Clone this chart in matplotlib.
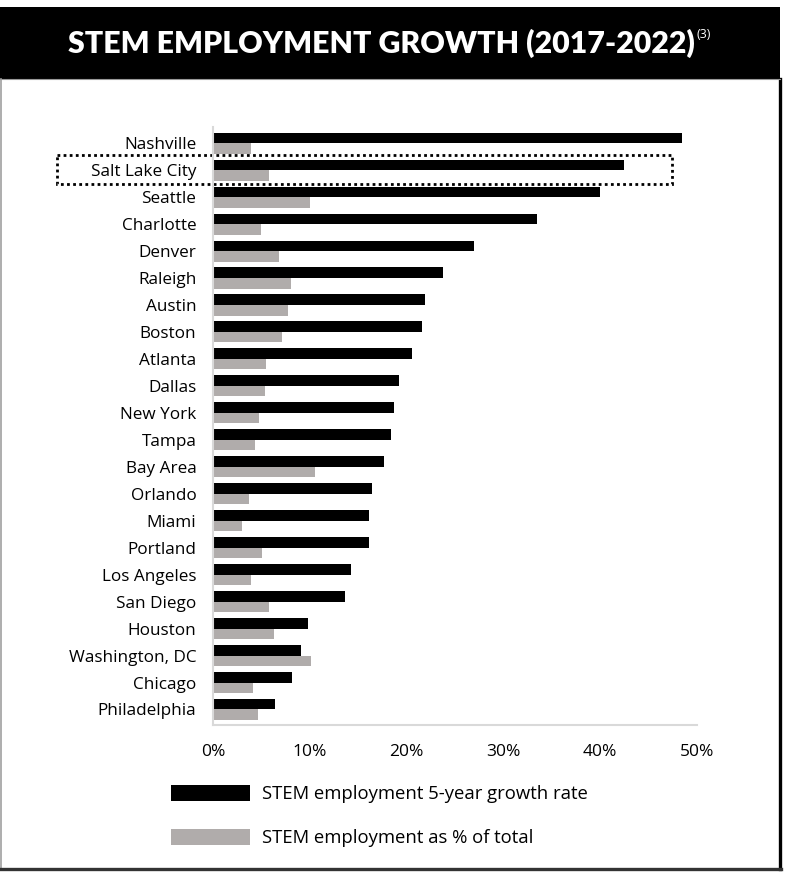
import numpy as np
import matplotlib.pyplot as plt
from matplotlib.patches import Rectangle

# metro areas, top to bottom
cities = ["Nashville", "Salt Lake City", "Seattle", "Charlotte", "Denver", "Raleigh",
          "Austin", "Boston", "Atlanta", "Dallas", "New York", "Tampa", "Bay Area",
          "Orlando", "Miami", "Portland", "Los Angeles", "San Diego", "Houston",
          "Washington, DC", "Chicago", "Philadelphia"]

# STEM employment 5-year growth rate (%)
growth = [48.5, 42.5, 40.0, 33.5, 27.0, 23.8, 21.9, 21.6, 20.6, 19.2, 18.7,
          18.4, 17.7, 16.4, 16.1, 16.1, 14.3, 13.6, 9.8, 9.1, 8.2, 6.4]

# STEM employment as % of total
share = [3.9, 5.75, 10.0, 5.0, 6.8, 8.1, 7.7, 7.1, 5.5, 5.4, 4.8,
         4.3, 10.5, 3.7, 3.0, 5.1, 3.9, 5.75, 6.3, 10.1, 4.1, 4.7]

xticks = [0, 10, 20, 30, 40, 50]
highlight = "Salt Lake City"

black = "#000000"
grey = "#b0acab"
font = ["Open Sans", "DejaVu Sans"]

W, H = 789, 872
fig = plt.figure(figsize=(W / 100, H / 100), dpi=100)
fig.patch.set_facecolor("white")

# header band and frame (header kept under the axes so the footnote shows on top)
fig.patches.append(Rectangle((0, 1 - 79 / H), 780 / W, 72 / H, transform=fig.transFigure,
                             facecolor="black", edgecolor="none", zorder=-1))
fig.add_artist(plt.Line2D([1 / W, 1 / W], [1 - 79 / H, 1 - 868 / H], transform=fig.transFigure,
                          color="#a0a0a0", lw=1.2))
fig.add_artist(plt.Line2D([779.5 / W, 779.5 / W], [1 - 79 / H, 1 - 869 / H], transform=fig.transFigure,
                          color="black", lw=2.4))
fig.add_artist(plt.Line2D([0, 781 / W], [1 - 868.5 / H, 1 - 868.5 / H], transform=fig.transFigure,
                          color="#333333", lw=2.4))
fig.add_artist(plt.Line2D([0, 780 / W], [1 - 79 / H, 1 - 79 / H], transform=fig.transFigure,
                          color="#999999", lw=0.8))

title = fig.text(68 / W, 1 - 43 / H, "STEM EMPLOYMENT GROWTH (2017-2022)", ha="left", va="center",
                 color="white", fontsize=21.8, fontweight="heavy", family=["Lato", "DejaVu Sans"])

ax = fig.add_axes([213 / W, 1 - 725 / H, (697 - 213) / W, (725 - 127) / H])

# footnote marker just after the title
ax.annotate("(3)", xy=(1, 1), xycoords=title, xytext=(1.5, 0.5), textcoords="offset points",
            ha="left", va="top", color="white", fontsize=9, family=font,
            annotation_clip=False)

y = np.arange(len(cities))
h = 0.39
b1 = ax.barh(y - h / 2, growth, height=h, color=black, label="STEM employment 5-year growth rate")
b2 = ax.barh(y + h / 2, share, height=h, color=grey, label="STEM employment as % of total")

ax.set_xlim(0, 50)
ax.set_ylim(len(cities) - 0.425, -0.6)
ax.set_yticks(y)
ax.set_yticklabels(cities, family=font, fontsize=12.3)
ax.set_xticks(xticks)
ax.set_xticklabels([f"{t}%" for t in xticks], family=font, fontsize=12.5)
ax.tick_params(axis="y", length=0, pad=12)
ax.tick_params(axis="x", length=0, pad=14)

for s in ["top", "right"]:
    ax.spines[s].set_visible(False)
for s in ["left", "bottom"]:
    ax.spines[s].set_color("#d9d9d9")
    ax.spines[s].set_linewidth(1.5)

# dotted box around the highlighted metro
i = cities.index(highlight)
box = Rectangle((-16.1, i - 0.56), 63.5, 1.08, fill=False, edgecolor="black",
                linewidth=2, linestyle=(0, (1, 1.2)), clip_on=False)
ax.add_patch(box)

fig.legend(handles=[b1, b2], loc="upper left", bbox_to_anchor=(171 / W, 1 - 785 / H),
           frameon=False, prop={"family": font, "size": 13.3}, handlelength=4.25,
           handleheight=0.95, handletextpad=0.7, labelspacing=1.4, borderpad=0,
           borderaxespad=0)

fig.savefig("out.png", dpi=100, facecolor="white")
